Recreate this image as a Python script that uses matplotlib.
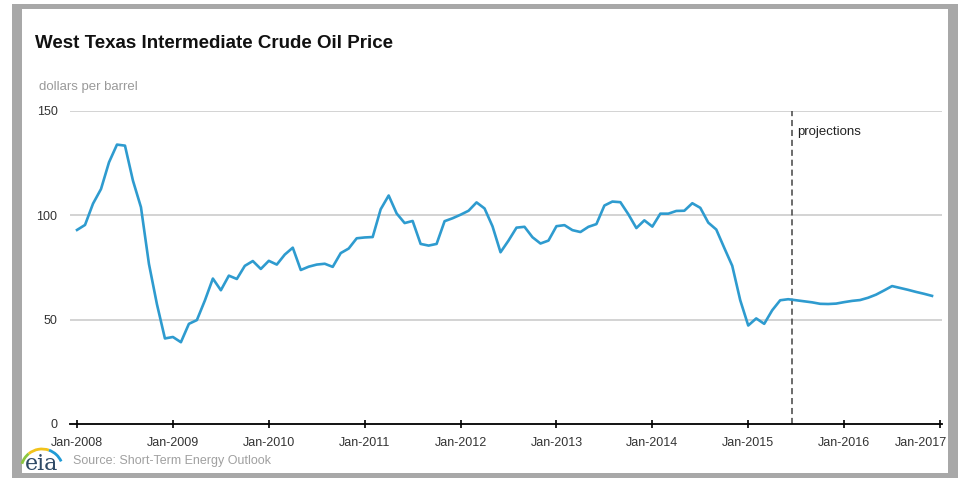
import matplotlib
matplotlib.use("Agg")
import matplotlib.pyplot as plt
from matplotlib.patches import Rectangle, Arc
from matplotlib.transforms import offset_copy
import numpy as np

plt.rcParams['font.family'] = ['Liberation Sans', 'DejaVu Sans']

# monthly WTI price, Jan-2008 .. Dec-2016 (dollars per barrel)
wti_2008 = [93.0, 95.4, 105.6, 112.6, 125.4, 133.9, 133.4, 116.6, 103.9, 76.7, 57.4, 41.0]
wti_2009 = [41.7, 39.2, 48.0, 49.8, 59.2, 69.7, 64.1, 71.1, 69.5, 75.8, 78.1, 74.3]
wti_2010 = [78.2, 76.4, 81.2, 84.5, 73.8, 75.4, 76.4, 76.8, 75.3, 81.9, 84.1, 89.0]
wti_2011 = [89.4, 89.6, 102.9, 109.5, 100.9, 96.3, 97.3, 86.3, 85.5, 86.3, 97.2, 98.6]
wti_2012 = [100.3, 102.2, 106.2, 103.3, 94.7, 82.3, 87.9, 94.1, 94.5, 89.5, 86.5, 87.9]
wti_2013 = [94.8, 95.3, 92.9, 92.0, 94.5, 95.8, 104.7, 106.6, 106.3, 100.5, 93.9, 97.6]
wti_2014 = [94.6, 100.8, 100.8, 102.1, 102.2, 105.8, 103.6, 96.5, 93.2, 84.4, 75.8, 59.3]
wti_2015 = [47.2, 50.6, 48.0, 54.5, 59.3, 59.8, 59.3, 58.8, 58.3, 57.6, 57.5, 57.7]
wti_2016 = [58.4, 59.0, 59.4, 60.5, 62.0, 64.0, 66.1, 65.2, 64.3, 63.3, 62.4, 61.4]

prices = (wti_2008 + wti_2009 + wti_2010 + wti_2011 + wti_2012 +
          wti_2013 + wti_2014 + wti_2015 + wti_2016)
months = np.arange(len(prices))

years = [2008, 2009, 2010, 2011, 2012, 2013, 2014, 2015, 2016, 2017]
tick_labels = ["Jan-%d" % y for y in years]
tick_pos = [(y - 2008) * 12 for y in years]
yticks = [0, 50, 100, 150]
proj_start = 89.5  # months since Jan-2008

W, H = 960, 479
fig = plt.figure(figsize=(W / 100, H / 100), dpi=100)
fig.patch.set_facecolor("white")

# card with grey border
fig.patches.append(Rectangle((12 / W, 1 - 478 / H), 946 / W, 474 / H,
                             transform=fig.transFigure, facecolor="#a8a8a8",
                             edgecolor="none", zorder=-10))
fig.patches.append(Rectangle((22 / W, 1 - 473 / H), 926 / W, 464 / H,
                             transform=fig.transFigure, facecolor="white",
                             edgecolor="none", zorder=-9))

ax = fig.add_axes([70 / W, 1 - 424 / H, 872 / W, 313 / H])
ax.set_zorder(5)
ax.set_facecolor("none")
ax.plot(months, prices, color="#2e9bcf", linewidth=1.9, zorder=3)
ax.axvline(proj_start, ymin=0, ymax=1, color="#444444", linestyle=(0, (4, 2.5)),
           linewidth=1.1, zorder=2)
ax.text(proj_start + 0.6, 140, "projections", fontsize=9.5, color="#222222",
        va="center", ha="left")

ax.set_xlim(-0.88, 108.25)
ax.set_ylim(0, 150)
ax.set_xticks(tick_pos)
ax.set_xticklabels(tick_labels, fontsize=9, color="#333333")
ax.set_yticks(yticks)
ax.set_yticklabels([str(v) for v in yticks], fontsize=9, color="#333333")
ax.tick_params(axis="y", length=0, pad=9)
ax.tick_params(axis="x", direction="inout", length=6, width=1.2, pad=6,
               color="black")
for v in yticks[1:]:
    ax.axhline(v, color="#c8c8c8", linewidth=1.1, zorder=1)
for s in ["top", "right", "left"]:
    ax.spines[s].set_visible(False)
ax.spines["bottom"].set_linewidth(1.3)
ax.spines["bottom"].set_color("black")

# last label sits pulled left against the card edge
fig.canvas.draw()
last = ax.get_xticklabels()[-1]
last.set_transform(offset_copy(last.get_transform(), fig=fig, x=-19, y=0,
                               units="dots"))

fig.text(35 / W, 1 - 44 / H, "West Texas Intermediate Crude Oil Price",
         fontsize=13.5, fontweight="bold", color="#111111", va="center", ha="left")
fig.text(39 / W, 1 - 87 / H, "dollars per barrel", fontsize=9.5, color="#9a9a9a",
         va="center", ha="left")
fig.text(73 / W, 1 - 461 / H, "Source: Short-Term Energy Outlook", fontsize=9,
         color="#a0a0a0", va="center", ha="left")

# eia logo
fig.text(25 / W, 1 - 464 / H, "eia", fontsize=16, family="DejaVu Serif",
         color="#2f4a66", va="center", ha="left")
for t1, t2, c in [(112, 148, "#8cc63f"), (80, 112, "#f2c31b"), (42, 80, "#1f9bd6")]:
    fig.patches.append(Arc((42 / W, 1 - 470 / H), 42 / W, 42 / H,
                           theta1=t1, theta2=t2, transform=fig.transFigure,
                           color=c, linewidth=2))

fig.savefig("out.png", dpi=100)
